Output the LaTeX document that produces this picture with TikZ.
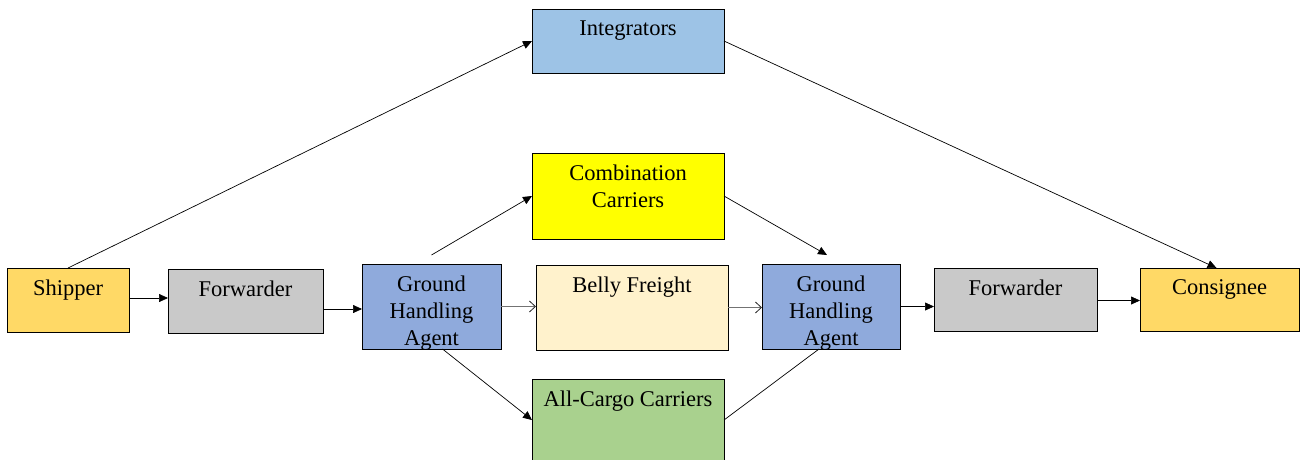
\documentclass[tikz,border=0pt]{standalone}
\usepackage{fontspec}
\setmainfont{Liberation Serif}
\usetikzlibrary{arrows.meta}
\definecolor{cGold}{HTML}{FFD966}
\definecolor{cGray}{HTML}{C9C9C9}
\definecolor{cGHA}{HTML}{8FAADC}
\definecolor{cInt}{HTML}{9DC3E6}
\definecolor{cComb}{HTML}{FFFF00}
\definecolor{cBelly}{HTML}{FFF2CC}
\definecolor{cCargo}{HTML}{A9D18E}
\tikzset{
  box/.style={draw=black, line width=0.9pt, inner sep=0pt, outer sep=0pt},
  txt/.style={anchor=north, inner sep=0pt, align=center, font=\fontsize{22.5}{27}\selectfont},
  arr/.style={line width=0.7pt, -{Triangle[length=9pt,width=8pt]}},
  oarr/.style={line width=0.8pt, draw=black!55, -{Straight Barb[length=6pt,width=11pt,line width=0.8pt,color=black!85]}},
  ln/.style={line width=0.7pt}
}
\newcommand{\mkbox}[6]{% name, left, top, right, bottom, colour
  \node[box, fill=#6, minimum width={(#4-#2)*1pt}, minimum height={(#5-#3)*1pt}] (#1) at ({(#2+#4)/2},{(#3+#5)/2}) {};}
\begin{document}
\begin{tikzpicture}[x=1pt,y=-1pt]
\useasboundingbox (0,0) rectangle (1300,459);
\mkbox{ship}{7}{268}{129}{332}{cGold}
\mkbox{fwa}{168}{269}{323}{333}{cGray}
\mkbox{gha}{362}{264}{501}{349}{cGHA}
\mkbox{integ}{532}{9}{724}{73}{cInt}
\mkbox{comb}{532}{153}{724}{239}{cComb}
\mkbox{belly}{536}{265}{728}{350}{cBelly}
\mkbox{cargo}{532}{379}{724}{461}{cCargo}
\mkbox{ghb}{762}{264}{900}{349}{cGHA}
\mkbox{fwb}{934}{268}{1097}{331}{cGray}
\mkbox{cons}{1140}{268}{1299}{331}{cGold}

\node[txt] (tship) at ([yshift=-11.6pt]ship.north) {Shipper};
\node[txt] (tfwa) at ([yshift=-11.6pt]fwa.north) {Forwarder};
\node[txt] (tgha) at ([yshift=-11.6pt]gha.north) {Ground\\Handling\\Agent};
\node[txt] (tinteg) at ([yshift=-11.6pt]integ.north) {Integrators};
\node[txt] (tcomb) at ([yshift=-11.6pt]comb.north) {Combination\\Carriers};
\node[txt] (tbelly) at ([yshift=-11.6pt]belly.north) {Belly Freight};
\node[txt] (tcargo) at ([yshift=-11.6pt]cargo.north) {All-Cargo Carriers};
\node[txt] (tghb) at ([yshift=-11.6pt]ghb.north) {Ground\\Handling\\Agent};
\node[txt] (tfwb) at ([yshift=-11.6pt]fwb.north) {Forwarder};
\node[txt] (tcons) at ([yshift=-11.6pt]cons.north) {Consignee};

\coordinate (gaTop) at ([yshift=9pt]gha.north);
\coordinate (gaBot) at ([xshift=11pt]gha.south);
\coordinate (gbTop) at ([xshift=-4pt,yshift=9pt]ghb.north);
\coordinate (gbBot) at ([xshift=-12pt]ghb.south);
\coordinate (consTop) at ([xshift=-3pt]cons.north);

\draw[arr] ([yshift=2pt]ship.east) -- ([yshift=2pt]ship.east -| fwa.west);
\draw[arr] ([yshift=-8pt]fwa.east) -- ([yshift=-8pt]fwa.east -| gha.west);
\draw[oarr] (gha.east) -- (gha.east -| belly.west);
\draw[oarr] (belly.east) -- (belly.east -| ghb.west);
\draw[arr] (ghb.east) -- (ghb.east -| fwb.west);
\draw[arr] ([yshift=-1pt]fwb.east) -- ([yshift=-1pt]fwb.east -| cons.west);
\draw[arr] (ship.north) -- (integ.west);
\draw[arr] (integ.east) -- (consTop);
\draw[arr] (gaTop) -- (comb.west);
\draw[arr] (gaBot) -- (cargo.west);
\draw[arr] (comb.east) -- (gbTop);
\draw[ln] (cargo.east) -- (gbBot);
\end{tikzpicture}
\end{document}
